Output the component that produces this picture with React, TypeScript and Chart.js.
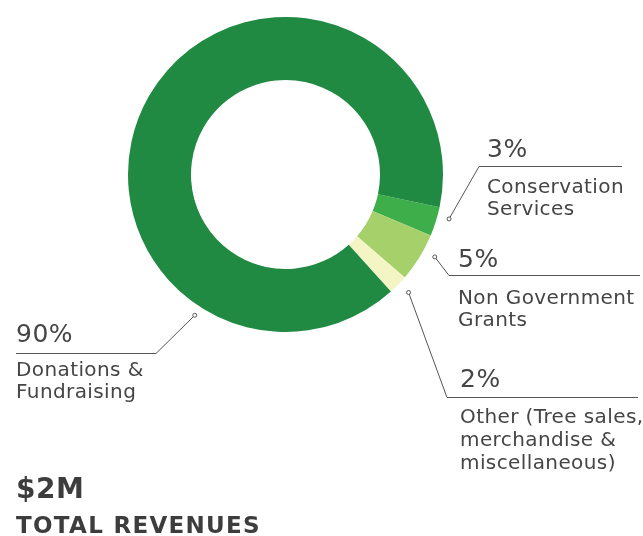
import React, { useEffect, useRef } from "react";
import { Chart, registerables } from "chart.js";

Chart.register(...registerables);

const categories = [
  "Conservation Services",
  "Non Government Grants",
  "Other (Tree sales, merchandise & miscellaneous)",
  "Donations & Fundraising",
];
const values = [3, 5, 2, 90];
const colors = ["#3dae4a", "#a6d16a", "#f3f5c5", "#208a43"];
const labelLines = [
  ["Conservation", "Services"],
  ["Non Government", "Grants"],
  ["Other (Tree sales,", "merchandise &", "miscellaneous)"],
  ["Donations &", "Fundraising"],
];
const totalValue = "$2M";
const totalLabel = "TOTAL REVENUES";

// annotation layout (positions of leader lines and label text)
const layout = [
  { angle: 15.2, off: 12, elbow: [479, 166], endX: 622, textX: 487, pctY: 157, lineY: [193, 215] },
  { angle: 28.9, off: 13, elbow: [449, 275], endX: 640, textX: 458, pctY: 267, lineY: [304, 326] },
  { angle: 43.8, off: 13, elbow: [447, 397], endX: 638, textX: 460, pctY: 387, lineY: [423, 446, 469] },
  { angle: 122.8, off: 10, elbow: [156, 353], endX: 16, textX: 16, pctY: 342, lineY: [376, 398] },
];

const FONT = "'DejaVu Sans', sans-serif";
const TEXT = "#454545";
const LINE = "#555555";

const annotations = {
  id: "annotations",
  afterDraw(chart: any) {
    const ctx = chart.ctx as CanvasRenderingContext2D;
    const arc = chart.getDatasetMeta(0).data[0];
    const cx = arc.x;
    const cy = arc.y;
    const R = arc.outerRadius;
    ctx.save();
    layout.forEach((l, i) => {
      const a = (l.angle * Math.PI) / 180;
      const dx = cx + Math.cos(a) * (R + l.off);
      const dy = cy + Math.sin(a) * (R + l.off);
      ctx.strokeStyle = LINE;
      ctx.lineWidth = 1;
      ctx.beginPath();
      ctx.moveTo(dx, dy);
      ctx.lineTo(l.elbow[0], l.elbow[1] + 0.5);
      ctx.lineTo(l.endX, l.elbow[1] + 0.5);
      ctx.stroke();
      ctx.beginPath();
      ctx.arc(dx, dy, 2, 0, Math.PI * 2);
      ctx.fillStyle = "#ffffff";
      ctx.fill();
      ctx.stroke();

      ctx.fillStyle = TEXT;
      ctx.textAlign = "left";
      ctx.textBaseline = "alphabetic";
      (ctx as any).letterSpacing = "0.5px";
      ctx.font = `25px ${FONT}`;
      ctx.fillText(`${values[i]}%`, l.textX, l.pctY);
      (ctx as any).letterSpacing = "0.4px";
      ctx.font = `20px ${FONT}`;
      labelLines[i].forEach((t, j) => ctx.fillText(t, l.textX, l.lineY[j]));
    });
    ctx.fillStyle = "#3d3d3d";
    (ctx as any).letterSpacing = "0.5px";
    ctx.font = `bold 28px ${FONT}`;
    ctx.fillText(totalValue, 16, 498);
    ctx.font = `bold 23px ${FONT}`;
    (ctx as any).letterSpacing = "1.3px";
    ctx.fillText(totalLabel, 16, 533);
    ctx.restore();
  },
};

export default function App() {
  const ref = useRef<HTMLCanvasElement>(null);
  useEffect(() => {
    document.body.style.margin = "0";
    const chart = new Chart(ref.current!, {
      type: "doughnut",
      data: {
        labels: categories,
        datasets: [
          {
            data: values,
            backgroundColor: colors,
            borderWidth: 0,
          },
        ],
      },
      options: {
        responsive: false,
        animation: false,
        rotation: 102,
        cutout: "60%",
        layout: { padding: { left: 128, top: 17, right: 200, bottom: 204 } },
        plugins: { legend: { display: false }, tooltip: { enabled: false } },
      },
      plugins: [annotations],
    });
    return () => chart.destroy();
  }, []);
  return (
    <div style={{ width: 643, height: 536, background: "#fff" }}>
      <canvas ref={ref} width={643} height={536} style={{ width: 643, height: 536, display: "block" }} />
    </div>
  );
}
